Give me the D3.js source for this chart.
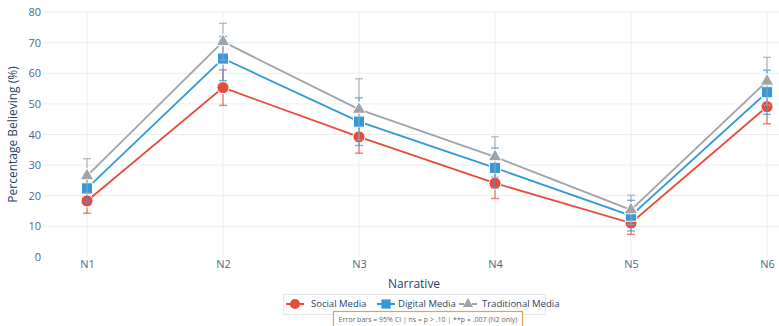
<!DOCTYPE html>
<html>
<head>
<meta charset="utf-8">
<script src="https://cdn.jsdelivr.net/npm/d3@7"></script>
<style>
  body { margin: 0; background: #fff; }
  svg { display: block; font-family: "Open Sans", verdana, arial, sans-serif; }
</style>
</head>
<body>
<div id="chart"></div>
<script>
// data
var narratives = ["N1", "N2", "N3", "N4", "N5", "N6"];
var socialVals = [18.3, 55.3, 39.2, 24.1, 11.1, 49.1];
var socialErr = [4.0, 5.8, 5.3, 5.0, 3.7, 5.6];
var digitalVals = [22.4, 64.8, 44.2, 29.1, 13.5, 53.8];
var digitalErr = [4.5, 7.2, 7.8, 6.5, 5.0, 7.2];
var tradVals = [26.5, 70.3, 48.2, 32.7, 15.4, 57.4];
var tradErr = [5.6, 6.0, 10.0, 6.6, 4.8, 7.8];
var yTicks = [0, 10, 20, 30, 40, 50, 60, 70, 80];
var seriesNames = ["Social Media", "Digital Media", "Traditional Media"];
var noteText = "Error bars = 95% CI | ns = p > .10 | **p = .007 (N2 only)";

var W = 779, H = 326;
var plotL = 43, plotR = 779, plotT = 12, plotB = 257;

var series = [
  {name: seriesNames[0], vals: socialVals, err: socialErr, color: "#E74C3C", sym: d3.symbolCircle, size: 115},
  {name: seriesNames[1], vals: digitalVals, err: digitalErr, color: "#3498DB", sym: d3.symbolSquare, size: 125},
  {name: seriesNames[2], vals: tradVals, err: tradErr, color: "#A0A4A8", sym: d3.symbolTriangle, size: 80}
];

var svg = d3.select("#chart").append("svg")
    .attr("width", W)
    .attr("height", H);

var x = d3.scalePoint()
    .domain(narratives)
    .range([87, 767]);

var y = d3.scaleLinear()
    .domain([0, 80])
    .range([plotB, plotT]);

// grid
var grid = svg.append("g");
grid.selectAll(".hg")
    .data(yTicks.filter(d => d > 0))
    .enter().append("line")
    .attr("x1", plotL).attr("x2", plotR)
    .attr("y1", d => y(d)).attr("y2", d => y(d))
    .attr("stroke", "#ebedf0").attr("stroke-width", 1);
grid.selectAll(".vg")
    .data(narratives)
    .enter().append("line")
    .attr("x1", d => x(d)).attr("x2", d => x(d))
    .attr("y1", plotT).attr("y2", plotB)
    .attr("stroke", "#ebedf0").attr("stroke-width", 1);

// axes
var yAxis = svg.append("g")
    .attr("transform", "translate(" + (plotL - 2) + ",0)")
    .call(d3.axisLeft(y).tickValues(yTicks).tickSize(0).tickPadding(0));
yAxis.select(".domain").remove();
yAxis.selectAll("text").attr("fill", "#506784").attr("font-size", 11)
    .attr("font-family", "'Open Sans', verdana, arial, sans-serif");

var xAxis = svg.append("g")
    .attr("transform", "translate(0," + plotB + ")")
    .call(d3.axisBottom(x).tickSize(0).tickPadding(3));
xAxis.select(".domain").remove();
xAxis.selectAll("text").attr("fill", "#506784").attr("font-size", 11)
    .attr("font-family", "'Open Sans', verdana, arial, sans-serif");

svg.append("text")
    .attr("transform", "translate(17," + ((plotT + plotB) / 2) + ") rotate(-90)")
    .attr("text-anchor", "middle")
    .attr("font-size", 12)
    .attr("fill", "#2a3f5f")
    .text("Percentage Believing (%)");

svg.append("text")
    .attr("x", 414).attr("y", 288)
    .attr("text-anchor", "middle")
    .attr("font-size", 12)
    .attr("fill", "#2a3f5f")
    .text("Narrative");

// series
var line = d3.line()
    .x((d, i) => x(narratives[i]))
    .y(d => y(d));

series.forEach(function(s) {
  var g = svg.append("g");
  g.append("path")
      .datum(s.vals)
      .attr("d", line)
      .attr("fill", "none")
      .attr("stroke", s.color)
      .attr("stroke-width", 1.8);

  var eb = g.append("g").attr("stroke", s.color).attr("stroke-opacity", 0.7).attr("stroke-width", 1.4);
  s.vals.forEach(function(v, i) {
    var cx = x(narratives[i]);
    var lo = y(v - s.err[i]), hi = y(v + s.err[i]);
    eb.append("line").attr("x1", cx).attr("x2", cx).attr("y1", lo).attr("y2", hi);
    eb.append("line").attr("x1", cx - 4).attr("x2", cx + 4).attr("y1", lo).attr("y2", lo);
    eb.append("line").attr("x1", cx - 4).attr("x2", cx + 4).attr("y1", hi).attr("y2", hi);
  });

  g.selectAll(".pt")
      .data(s.vals)
      .enter().append("path")
      .attr("d", d3.symbol().type(s.sym).size(s.size))
      .attr("transform", (d, i) => "translate(" + x(narratives[i]) + "," + y(d) + ")")
      .attr("fill", s.color)
      .attr("stroke", "#fff")
      .attr("stroke-width", 1);
});

// legend
var legend = svg.append("g");
legend.append("rect")
    .attr("x", 283.5).attr("y", 294.5)
    .attr("width", 262).attr("height", 20)
    .attr("fill", "#fff")
    .attr("stroke", "#e3e5e8")
    .attr("stroke-width", 1);

var legX = [295, 386, 468];
var legTextX = [311, 398, 482];
var legSize = [80, 85, 45];
series.forEach(function(s, i) {
  var lg = legend.append("g").attr("transform", "translate(" + legX[i] + ",304)");
  lg.append("line")
      .attr("x1", -9).attr("x2", -4)
      .attr("stroke", s.color).attr("stroke-width", 2);
  lg.append("line")
      .attr("x1", 4).attr("x2", 9)
      .attr("stroke", s.color).attr("stroke-width", 2);
  lg.append("path")
      .attr("d", d3.symbol().type(s.sym).size(legSize[i]))
      .attr("fill", s.color);
  legend.append("text")
      .attr("x", legTextX[i]).attr("y", 304).attr("dy", "0.35em")
      .attr("font-size", 9.5)
      .attr("fill", "#2a3f5f")
      .text(s.name);
});

// note box
svg.append("rect")
    .attr("x", 333.5).attr("y", 311.5)
    .attr("width", 189).attr("height", 18)
    .attr("fill", "#fff")
    .attr("stroke", "#D9A45B")
    .attr("stroke-width", 1.2);
svg.append("text")
    .attr("x", 428).attr("y", 320)
    .attr("dy", "0.35em")
    .attr("text-anchor", "middle")
    .attr("font-size", 7)
    .attr("fill", "#666")
    .text(noteText);
</script>
</body>
</html>
